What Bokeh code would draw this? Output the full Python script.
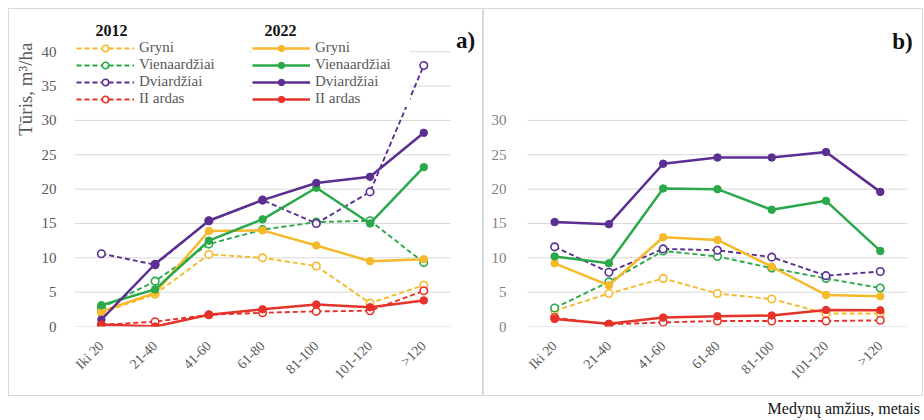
import math
from bokeh.plotting import figure
from bokeh.models import (Range1d, Legend, LegendItem, Label, Title, Div,
                          FixedTicker, Spacer)
from bokeh.layouts import row, column
from bokeh.embed import file_html
from bokeh.resources import INLINE

categories = ["Iki 20", "21-40", "41-60", "61-80", "81-100", "101-120", ">120"]
series_names = ["Gryni", "Vienaardžiai", "Dviardžiai", "II ardas"]
series_colors = ["#F5B92B", "#2BA84A", "#5B2E91", "#E5332A"]

# panel a)
a_gryni_2012 = [2.0, 4.7, 10.5, 10.0, 8.8, 3.4, 6.0]
a_vien_2012 = [2.7, 6.6, 12.0, 14.1, 15.2, 15.4, 9.3]
a_dvi_2012 = [10.6, 9.0, 15.4, 18.4, 15.0, 19.6, 38.0]
a_ii_2012 = [0.25, 0.7, 1.7, 2.0, 2.2, 2.3, 5.2]
a_gryni_2022 = [2.2, 4.9, 13.9, 14.0, 11.8, 9.5, 9.8]
a_vien_2022 = [3.1, 5.4, 12.5, 15.6, 20.2, 15.0, 23.2]
a_dvi_2022 = [1.0, 9.1, 15.4, 18.4, 20.9, 21.8, 28.2]
a_ii_2022 = [0.3, 0.0, 1.7, 2.5, 3.2, 2.8, 3.8]

# panel b)
b_gryni_2012 = [2.3, 4.8, 7.0, 4.8, 4.0, 1.9, 1.9]
b_vien_2012 = [2.7, 6.5, 11.0, 10.2, 8.5, 7.0, 5.6]
b_dvi_2012 = [11.6, 7.9, 11.3, 11.1, 10.1, 7.4, 8.0]
b_ii_2012 = [1.3, 0.3, 0.6, 0.8, 0.8, 0.8, 0.9]
b_gryni_2022 = [9.2, 6.0, 13.0, 12.6, 8.7, 4.6, 4.4]
b_vien_2022 = [10.2, 9.2, 20.1, 20.0, 17.0, 18.3, 11.0]
b_dvi_2022 = [15.2, 14.9, 23.7, 24.6, 24.6, 25.4, 19.6]
b_ii_2022 = [1.1, 0.4, 1.3, 1.5, 1.6, 2.4, 2.35]

a_ticks = [0, 5, 10, 15, 20, 25, 30, 35, 40]
b_ticks = [0, 5, 10, 15, 20, 25, 30]

SERIF = "Liberation Serif"
GRID = "#d9d9d9"
TICKC = "#595959"
PX_PER_CAT = 54.0
PX_PER_UNIT = 6.825
FIG_H = 388
FRAME_H = 315
YTOP = FRAME_H / PX_PER_UNIT

xs = list(range(len(categories)))
x_lo, x_hi = -0.5, len(categories) - 0.5


def make_fig(width, left, right, ticks, ysize, ystandoff, ycolor):
    frame_w = width - 2 - left - right
    xr = Range1d(x_lo, x_lo + frame_w / PX_PER_CAT)
    p = figure(width=width, height=FIG_H, x_range=xr, y_range=Range1d(0, YTOP),
               output_backend="svg", toolbar_location=None,
               min_border_left=left, min_border_right=right, min_border_top=0,
               min_border_bottom=FIG_H - 2 - FRAME_H, background_fill_color="white",
               styles={"border": "1px solid #d9d9d9", "box-sizing": "border-box"})
    p.outline_line_color = None
    p.xgrid.grid_line_color = None
    p.ygrid.grid_line_color = None
    g = p.segment(x0=[x_lo] * len(ticks), x1=[x_hi] * len(ticks), y0=ticks, y1=ticks,
                  line_color=GRID, line_width=1)
    g.level = "underlay"
    p.yaxis.ticker = FixedTicker(ticks=ticks)
    p.xaxis.ticker = FixedTicker(ticks=xs)
    p.xaxis.major_label_overrides = {i: c for i, c in zip(xs, categories)}
    for ax in (p.xaxis, p.yaxis):
        ax.axis_line_color = None
        ax.major_tick_line_color = None
        ax.minor_tick_line_color = None
        ax.major_label_text_font = SERIF
    p.xaxis.major_label_text_color = TICKC
    p.xaxis.major_label_orientation = math.pi / 4
    p.xaxis.major_label_text_font_size = "14px"
    p.xaxis.major_label_standoff = 11
    p.yaxis.major_label_text_font_size = ysize
    p.yaxis.major_label_text_color = ycolor
    p.yaxis.major_label_standoff = ystandoff
    return p


def draw(p, s2012, s2022):
    r12, r22 = [], []
    for vals, color in zip(s2012, series_colors):
        l = p.line(xs, vals, line_color=color, line_width=1.9, line_dash="5 3")
        m = p.scatter(xs, vals, marker="circle", size=7.5, line_color=color,
                      fill_color="white", line_width=1.6)
        r12.append([l, m])
    for vals, color in zip(s2022, series_colors):
        l = p.line(xs, vals, line_color=color, line_width=2.5)
        m = p.scatter(xs, vals, marker="circle", size=7.5, line_color=color,
                      fill_color=color, line_width=1)
        r22.append([l, m])
    return r12, r22


# ---------- left panel a) ----------
p1 = make_fig(475, 61, 2, a_ticks, "15px", 12, TICKC)
r12, r22 = draw(p1, [a_gryni_2012, a_vien_2012, a_dvi_2012, a_ii_2012],
                [a_gryni_2022, a_vien_2022, a_dvi_2022, a_ii_2022])

for rs, loc, lw in ((r12, (2, 219), 110), (r22, (178, 219), 95)):
    lg = Legend(items=[LegendItem(label=n, renderers=r) for n, r in zip(series_names, rs)],
                location=loc, padding=0, margin=0, spacing=0,
                label_height=16, glyph_height=16, glyph_width=58, label_standoff=5,
                label_width=lw, label_text_font=SERIF, label_text_font_size="15px",
                label_text_line_height=1.0,
                label_text_color=TICKC, background_fill_color="white",
                background_fill_alpha=1, border_line_color=None)
    p1.add_layout(lg, "center")

for txt, cx in (("2012", 101), ("2022", 270)):
    p1.add_layout(Label(x=cx, y=20, x_units="canvas", y_units="canvas", text=txt,
                        text_font=SERIF, text_font_size="16px", text_font_style="bold",
                        text_align="center", text_baseline="middle", text_color="#111111"))
p1.add_layout(Label(x=455, y=30, x_units="canvas", y_units="canvas", text="a)",
                    text_font=SERIF, text_font_size="23px", text_font_style="bold",
                    text_align="center", text_baseline="middle", text_color="#111111"))
p1.add_layout(Title(text="Tūris, m³/ha", align="right", offset=33, standoff=6,
                    text_font=SERIF, text_font_size="19px", text_font_style="normal",
                    text_color=TICKC), "left")

# ---------- right panel b) ----------
p2 = make_fig(440, 43, 0, b_ticks, "15px", 15, "#7f7f7f")
draw(p2, [b_gryni_2012, b_vien_2012, b_dvi_2012, b_ii_2012],
     [b_gryni_2022, b_vien_2022, b_dvi_2022, b_ii_2022])
p2.add_layout(Label(x=417, y=31, x_units="canvas", y_units="canvas", text="b)",
                    text_font=SERIF, text_font_size="23px", text_font_style="bold",
                    text_align="center", text_baseline="middle", text_color="#111111"))

xtitle = Div(text="Medynų amžius, metais", width=915, height=16,
             styles={"text-align": "right", "font-family": SERIF, "font-size": "16px",
                     "color": "#111111", "line-height": "16px", "white-space": "nowrap"})

layout = column(Spacer(height=8),
                row(Spacer(width=8), p1, p2, spacing=0),
                xtitle, spacing=0)
open("out.html", "w").write(file_html(layout, INLINE))
